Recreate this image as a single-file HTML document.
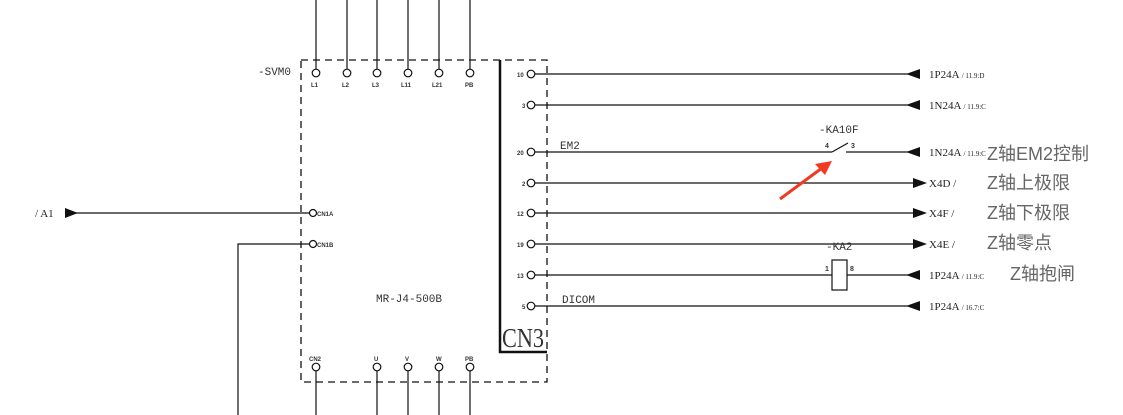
<!DOCTYPE html>
<html><head><meta charset="utf-8"><style>
html,body{margin:0;padding:0;background:#fff;}
svg{display:block;}
text{font-family:"Liberation Serif","Noto Serif CJK SC",serif;fill:#333;}
.s{font-size:6px;font-family:"Liberation Sans",sans-serif;fill:#333;font-weight:bold}
.m{font-size:11px;font-family:"Liberation Mono","DejaVu Sans Mono",monospace;fill:#333}
.r{font-size:11px;font-family:"Liberation Serif",serif;fill:#222}
.c{font-size:18px;font-family:"Liberation Sans","Noto Sans CJK SC",sans-serif;fill:#666}
</style></head><body>
<svg width="1123" height="415" viewBox="0 0 1123 415" xmlns="http://www.w3.org/2000/svg">
<g stroke="#111" stroke-width="1.2" fill="none">
<rect x="301" y="60" width="246" height="322" stroke-dasharray="7,5" stroke-width="1.3"/>
<path d="M500 60 V352 H547" stroke-width="2.5"/>
<path d="M316 0V69 M347 0V69 M377 0V69 M408 0V69 M439 0V69 M470 0V69"/>
<circle cx="316" cy="73" r="3.8"/><circle cx="347" cy="73" r="3.8"/><circle cx="377" cy="73" r="3.8"/><circle cx="408" cy="73" r="3.8"/><circle cx="439" cy="73" r="3.8"/><circle cx="470" cy="73" r="3.8"/>
<circle cx="316" cy="367" r="3.8"/><circle cx="377" cy="367" r="3.8"/><circle cx="408" cy="367" r="3.8"/><circle cx="439" cy="367" r="3.8"/><circle cx="470" cy="367" r="3.8"/>
<path d="M316 371V415 M377 371V415 M408 371V415 M439 371V415 M470 371V415"/>
<path d="M75 213H309"/>
<circle cx="313" cy="213" r="3.5"/>
<path d="M309 244H238V415"/>
<circle cx="313" cy="244" r="3.5"/>
<circle cx="531" cy="74" r="3.8"/><circle cx="531" cy="105" r="3.8"/><circle cx="531" cy="152" r="3.8"/><circle cx="531" cy="183" r="3.8"/><circle cx="531" cy="213" r="3.8"/><circle cx="531" cy="244" r="3.8"/><circle cx="531" cy="275" r="3.8"/><circle cx="531" cy="306" r="3.8"/>
<path d="M535 74H920 M535 105H920 M535 152H832 M846 152H920 M535 183H914 M535 213H914 M535 244H914 M535 275H832 M847 275H920 M535 306H920"/>
<path d="M832 152L848 143"/>
<rect x="832" y="260" width="15" height="30"/>
</g>
<g fill="#111">
<polygon points="65,208 65,218 78,213"/>
<polygon points="906,74 920,69 920,79"/>
<polygon points="906,105 920,100 920,110"/>
<polygon points="906,152 920,147 920,157"/>
<polygon points="927,183 913,178 913,188"/>
<polygon points="927,213 913,208 913,218"/>
<polygon points="927,244 913,239 913,249"/>
<polygon points="906,275 920,270 920,280"/>
<polygon points="906,306 920,301 920,311"/>
</g>
<path d="M780 199L822 168" stroke="#f03a22" stroke-width="3"/>
<polygon points="832,161 815,164 825,175" fill="#f03a22"/>
<text x="258" y="75" class="m">-SVM0</text>
<text class="s" x="311" y="87">L1</text><text class="s" x="342" y="87">L2</text><text class="s" x="372" y="87">L3</text><text class="s" x="401" y="87">L11</text><text class="s" x="432" y="87">L21</text><text class="s" x="465" y="87">PB</text>
<text class="s" x="309" y="361">CN2</text><text class="s" x="374" y="361">U</text><text class="s" x="405" y="361">V</text><text class="s" x="436" y="361">W</text><text class="s" x="465" y="361">PB</text>
<text class="s" x="317" y="216">CN1A</text><text class="s" x="317" y="247">CN1B</text>
<text class="s" x="517" y="77">10</text><text class="s" x="522" y="108">3</text><text class="s" x="517" y="155">20</text><text class="s" x="522" y="186">2</text><text class="s" x="517" y="216">12</text><text class="s" x="517" y="247">19</text><text class="s" x="517" y="278">13</text><text class="s" x="522" y="309">5</text>
<text x="35" y="217" class="r">/ A1</text>
<text x="560" y="149" class="m">EM2</text>
<text x="562" y="303" class="m">DICOM</text>
<text x="376" y="302" class="m">MR-J4-500B</text>
<text x="502" y="347" textLength="42" lengthAdjust="spacingAndGlyphs" style="font-size:27px;font-family:'Liberation Serif',serif;fill:#333">CN3</text>
<text x="819" y="133" class="m">-KA10F</text>
<text x="825" y="148" class="s" style="font-size:7px">4</text><text x="851" y="148" class="s" style="font-size:7px">3</text>
<text x="826" y="250" class="m">-KA2</text>
<text x="825" y="271" class="s" style="font-size:7px">1</text><text x="850" y="271" class="s" style="font-size:7px">8</text>
<text x="929" y="78" class="r">1P24A <tspan style="font-size:7px">/ 11.9:D</tspan></text>
<text x="929" y="109" class="r">1N24A <tspan style="font-size:7px">/ 11.9:C</tspan></text>
<text x="929" y="156" class="r">1N24A <tspan style="font-size:7px">/ 11.9:C</tspan></text>
<text x="929" y="187" class="r">X4D /</text>
<text x="929" y="217" class="r">X4F /</text>
<text x="929" y="248" class="r">X4E /</text>
<text x="929" y="279" class="r">1P24A <tspan style="font-size:7px">/ 11.9:C</tspan></text>
<text x="929" y="310" class="r">1P24A <tspan style="font-size:7px">/ 16.7:C</tspan></text>
<text x="987" y="160" class="c">Z轴EM2控制</text>
<text x="987" y="189" class="c">Z轴上极限</text>
<text x="987" y="219" class="c">Z轴下极限</text>
<text x="987" y="249" class="c">Z轴零点</text>
<text x="1010" y="280" class="c">Z轴抱闸</text>
</svg>
</body></html>
